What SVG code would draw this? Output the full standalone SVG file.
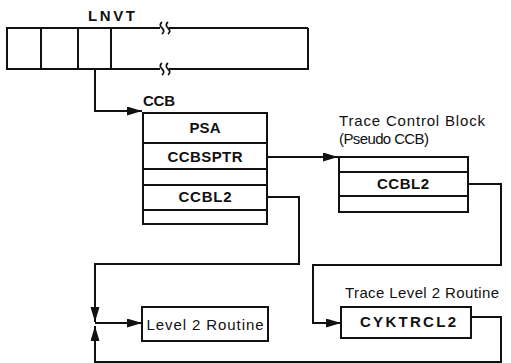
<svg xmlns="http://www.w3.org/2000/svg" width="511" height="363" viewBox="0 0 511 363">
<style>
.box{fill:none;stroke:#111;stroke-width:2}
.ln{fill:none;stroke:#111;stroke-width:2}
.t{font-family:"Liberation Sans",Arial,sans-serif;font-size:15px;fill:#111}
.b{font-weight:bold}
.c{text-anchor:middle}
</style>
<defs>
<marker id="ah" markerUnits="userSpaceOnUse" markerWidth="16" markerHeight="10" refX="15" refY="4.5" orient="auto">
<path d="M0,0 L15,4.5 L0,9 Z" fill="#111"/>
</marker>
</defs>
<rect width="511" height="363" fill="#fff"/>
<g id="lnvt">
<text class="t b" x="88" y="21" textLength="47" lengthAdjust="spacing">LNVT</text>
<path class="ln" d="M308,28 H7 V69 H308 V28"/>
<path class="ln" d="M41,28 V69 M78,28 V69 M111,28 V69"/>
<path class="ln" style="stroke:#fff;stroke-width:4" d="M160,28 H169 M160,69 H169"/>
<path fill="none" stroke="#111" stroke-width="1.7" d="M162,22 q-3.5,3 0,6 q3.5,3 0,6 M168,22 q-3.5,3 0,6 q3.5,3 0,6 M162,63 q-3.5,3 0,6 q3.5,3 0,6 M168,63 q-3.5,3 0,6 q3.5,3 0,6"/>
</g>
<g id="ccb">
<text class="t b" x="143" y="106" textLength="32" lengthAdjust="spacing">CCB</text>
<rect class="box" x="143" y="113" width="124" height="111"/>
<path class="ln" d="M143,143 H267 M143,169 H267 M143,185 H267 M143,210 H267"/>
<text class="t b c" x="205" y="133" textLength="31" lengthAdjust="spacing">PSA</text>
<text class="t b c" x="205" y="162" textLength="75" lengthAdjust="spacing">CCBSPTR</text>
<text class="t b c" x="205" y="202" textLength="53" lengthAdjust="spacing">CCBL2</text>
</g>
<g id="tcb">
<text class="t" x="339" y="126" textLength="146" lengthAdjust="spacing">Trace Control Block</text>
<text class="t" x="339" y="144" textLength="90" lengthAdjust="spacing">(Pseudo CCB)</text>
<rect class="box" x="339" y="157" width="129" height="55"/>
<path class="ln" d="M339,172 H468 M339,196 H468"/>
<text class="t b c" x="403" y="189" textLength="52" lengthAdjust="spacing">CCBL2</text>
</g>
<g id="level2">
<rect class="box" x="142" y="307" width="126" height="34"/>
<text class="t c" x="205" y="330" textLength="117" lengthAdjust="spacing">Level 2 Routine</text>
</g>
<g id="trace-level2">
<text class="t" x="345" y="298" textLength="154" lengthAdjust="spacing">Trace Level 2 Routine</text>
<rect class="box" x="341" y="307" width="130" height="31"/>
<text class="t b c" x="408" y="327" textLength="96" lengthAdjust="spacing">CYKTRCL2</text>
</g>
<g id="connectors">
<path class="ln" d="M95,69 V111 H142" marker-end="url(#ah)"/>
<path class="ln" d="M267,157 H338" marker-end="url(#ah)"/>
<path class="ln" d="M468,184 H501 V265 H313 V323 H341" marker-end="url(#ah)"/>
<path class="ln" d="M267,197 H299 V264 H95 V322" marker-end="url(#ah)"/>
<path class="ln" d="M95,323 H142" marker-end="url(#ah)"/>
<path class="ln" d="M471,317 H501 V362 H95 V326" marker-end="url(#ah)"/>
</g>
</svg>
